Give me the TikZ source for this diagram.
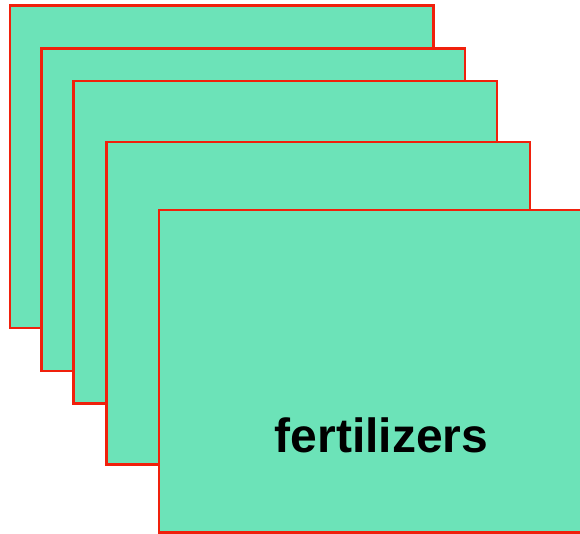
\documentclass[tikz,border=0pt]{standalone}
\usepackage{fontspec}
\setmainfont{Liberation Sans}
\usetikzlibrary{positioning}

\definecolor{sheetfill}{RGB}{108,227,184}
\definecolor{sheetline}{RGB}{240,32,12}

\begin{document}
\begin{tikzpicture}[
        x=1pt, y=-1pt,
        sheet/.style={
            draw=sheetline,
            fill=sheetfill,
            line width=2.4pt,
            anchor=north west,
            minimum width=423.5pt,
            minimum height=322.5pt,
            inner sep=0pt,
            outer sep=0pt
        },
        label/.style={
            font=\fontsize{48}{50}\selectfont\bfseries,
            inner sep=0pt
        }
    ]
        \useasboundingbox (0,0) rectangle (580,534);

        \node[sheet] (sheet1) at (10,5.5) {};
        \node[sheet] (sheet2) at (41.5,48.5) {};
        \node[sheet] (sheet3) at (73.5,81) {};
        \node[sheet] (sheet4) at (106.5,142) {};
        \node[sheet] (sheet5) at (159,210) {};

        \node[label] (fert) at (381.5,435) {fertilizers};
    \end{tikzpicture}
\end{document}
